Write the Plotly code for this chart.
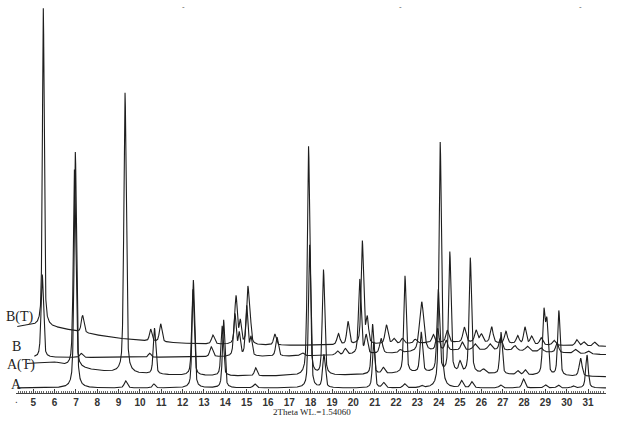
import numpy as np
import plotly.graph_objects as go

# 2theta range of each pattern (deg)
start_A, end_A = 4.25, 31.84
start_AT, end_AT = 4.70, 31.84
start_B, end_B = 5.05, 31.84
start_BT, end_BT = 4.25, 31.84

# flat background level of each pattern (intensity units)
level_A, level_AT, level_B, level_BT = 5, 15, 35, 45

# broad amorphous humps: centre, height, half width
hump_AT_pos = [5.0, 24.0, 5.9]
hump_AT_h = [14, 5, 3]
hump_AT_w = [3.0, 4.0, 0.4]
hump_B_pos = [26.0]
hump_B_h = [8]
hump_B_w = [5.0]
hump_BT_pos = [5.0, 25.0]
hump_BT_h = [22, 5]
hump_BT_w = [3.5, 4.0]

# reflections: 2theta, height above background, half width
peaks_A_pos = [6.97, 9.33, 10.65, 12.50, 13.92, 15.38, 17.95, 18.62, 20.95, 21.42, 22.40,
               23.20, 24.07, 25.07, 25.55, 26.90, 27.97, 29.00, 29.60, 30.30, 30.95]
peaks_A_h = [236, 7, 4, 108, 68, 4, 143, 33, 46, 5, 4,
             2, 246, 7, 6, 3, 9, 3, 3, 2, 33]
peaks_A_w = [0.065, 0.08, 0.07, 0.065, 0.065, 0.08, 0.065, 0.07, 0.065, 0.08, 0.08,
             0.08, 0.065, 0.08, 0.08, 0.08, 0.08, 0.08, 0.08, 0.08, 0.07]

peaks_AT_pos = [6.93, 9.30, 10.68, 12.48, 13.85, 15.42, 17.90, 18.60, 20.90, 21.40, 22.42, 23.18,
                23.98, 24.52, 25.00, 25.48, 26.10, 26.92, 27.70, 28.05, 28.93, 29.07, 29.63, 30.65]
peaks_AT_h = [198, 280, 46, 86, 50, 8, 229, 105, 50, 6, 97, 40,
              82, 120, 10, 115, 4, 42, 4, 5, 62, 50, 65, 18]
peaks_AT_w = [0.065, 0.065, 0.065, 0.065, 0.065, 0.07, 0.065, 0.065, 0.065, 0.08, 0.065, 0.07,
              0.07, 0.065, 0.07, 0.065, 0.10, 0.065, 0.08, 0.08, 0.07, 0.065, 0.065, 0.08]

peaks_B_pos = [5.42, 7.25, 10.45, 13.34, 14.45, 14.65, 15.00, 15.20, 16.42, 17.60, 19.25, 19.62,
               20.30, 20.60, 21.30, 22.20, 23.20, 23.95, 24.35, 25.10, 25.70, 26.40, 26.90,
               27.57, 28.15, 28.80, 29.55, 30.40, 31.00]
peaks_B_h = [83, 4, 4, 10, 42, 22, 50, 18, 19, 3, 4, 6,
             75, 18, 15, 3, 50, 22, 10, 8, 6, 6, 12,
             5, 5, 4, 10, 4, 3]
peaks_B_w = [0.065, 0.08, 0.07, 0.08, 0.07, 0.06, 0.065, 0.06, 0.07, 0.10, 0.08, 0.08,
             0.07, 0.07, 0.08, 0.08, 0.12, 0.08, 0.08, 0.08, 0.10, 0.10, 0.08,
             0.10, 0.10, 0.10, 0.08, 0.10, 0.10]

peaks_BT_pos = [5.47, 7.31, 10.50, 10.97, 13.42, 14.50, 14.70, 15.05, 15.15, 16.32, 19.30, 19.75,
                20.42, 20.65, 21.55, 21.90, 22.30, 22.90, 23.75, 24.40, 25.20, 25.75, 26.00,
                26.48, 27.15, 27.70, 28.04, 28.35, 28.80, 29.40, 30.47, 30.80, 31.30]
peaks_BT_h = [318, 17, 12, 18, 9, 48, 22, 52, 28, 11, 11, 23,
              103, 25, 19, 5, 5, 4, 8, 12, 15, 12, 8,
              16, 12, 8, 17, 8, 7, 5, 6, 4, 4]
peaks_BT_w = [0.05, 0.07, 0.065, 0.07, 0.08, 0.07, 0.06, 0.065, 0.06, 0.07, 0.08, 0.07,
              0.065, 0.07, 0.08, 0.08, 0.08, 0.08, 0.08, 0.08, 0.08, 0.08, 0.08,
              0.08, 0.08, 0.08, 0.07, 0.08, 0.08, 0.08, 0.08, 0.08, 0.08]

labels = ['B(T)', 'B', 'A(T)', 'A']


def pattern(x0, x1, level, hp, hh, hw, pp, ph, pw):
    x = np.arange(x0, x1, 0.004)
    y = np.full_like(x, float(level))
    for c, h, w in zip(hp, hh, hw):
        y += h / (1 + ((x - c) / w) ** 2)
    for c, h, w in zip(pp, ph, pw):
        u = (x - c) / w
        y += h * (0.5 / (1 + u ** 2) + 0.5 * np.exp(-np.log(2) * u ** 2))
    return x, y


series = [
    pattern(start_BT, end_BT, level_BT, hump_BT_pos, hump_BT_h, hump_BT_w,
            peaks_BT_pos, peaks_BT_h, peaks_BT_w),
    pattern(start_B, end_B, level_B, hump_B_pos, hump_B_h, hump_B_w,
            peaks_B_pos, peaks_B_h, peaks_B_w),
    pattern(start_AT, end_AT, level_AT, hump_AT_pos, hump_AT_h, hump_AT_w,
            peaks_AT_pos, peaks_AT_h, peaks_AT_w),
    pattern(start_A, end_A, level_A, [], [], [], peaks_A_pos, peaks_A_h, peaks_A_w),
]

fig = go.Figure()
for name, (x, y) in zip(labels, series):
    fig.add_trace(go.Scatter(x=x, y=y, mode='lines', name=name,
                             line=dict(color='#1e1e1e', width=1.1)))

# pattern labels at the left
label_x = [4.38, 4.21, 4.43, 4.20]
label_y = [76, 46.5, 28.5, 9]
for t, lx, ly in zip(labels, label_x, label_y):
    fig.add_annotation(x=lx, y=ly, text=t, showarrow=False,
                       font=dict(family='Liberation Serif', size=14, color='#222'))

fig.add_annotation(x=18.06, y=0, yref='paper', yshift=-19, yanchor='middle',
                   text='2Theta WL.=1.54060', showarrow=False,
                   font=dict(family='Liberation Serif', size=9, color='#222'))
fig.add_annotation(x=4.22, y=0, yref='paper', yshift=-6, yanchor='middle', text='.',
                   showarrow=False, font=dict(family='Liberation Sans', size=10, color='#333'))
for dx in [12.03, 22.2, 30.63]:
    fig.add_annotation(x=dx, y=387, text='-', showarrow=False,
                       font=dict(family='Liberation Sans', size=8, color='#555'))

fig.update_layout(
    width=622, height=422,
    margin=dict(l=16, r=16, t=0, b=29),
    plot_bgcolor='white', paper_bgcolor='white',
    showlegend=False,
    xaxis=dict(range=[4.19, 31.84], tickmode='array', tickvals=list(range(5, 32)),
               showline=True, linecolor='#444', linewidth=1,
               ticks='inside', ticklen=4, tickcolor='#444',
               minor=dict(dtick=0.1, ticks='inside', ticklen=2, tickcolor='#666'),
               showgrid=False, zeroline=False,
               tickfont=dict(family='Liberation Sans', size=10, color='#333', weight='bold')),
    yaxis=dict(range=[0, 393], visible=False),
)

# drop the default page margin so the figure sits at the window corner
fig.write_html('out.html', config={'displayModeBar': False},
               post_script="document.body.style.margin='0';")
